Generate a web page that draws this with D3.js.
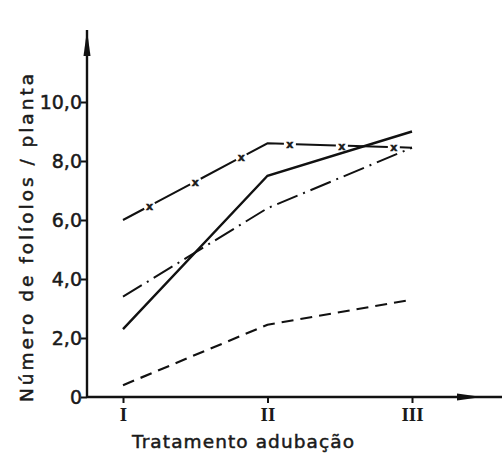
<!DOCTYPE html>
<html>
<head>
<meta charset="utf-8">
<script src="https://cdn.jsdelivr.net/npm/d3@7"></script>
<style>
  body { margin: 0; background: #fff; }
  .lbl { font-family: "DejaVu Sans", sans-serif; fill: #1a1a1a; stroke: #1a1a1a; stroke-width: 0.5px; }
  .roman { font-family: "Liberation Serif", serif; font-weight: bold; fill: #1a1a1a; }
</style>
</head>
<body>
<div id="chart"></div>
<script>
const treatments = ['I', 'II', 'III'];
const yTicks = [0, 2, 4, 6, 8, 10];
const solid = [2.3, 7.5, 9.0];
const crossed = [6.0, 8.6, 8.45];
const dashDot = [3.4, 6.4, 8.45];
const dashed = [0.4, 2.45, 3.3];

const width = 502, height = 465;
const margin = { top: 30, right: 0, bottom: 68, left: 87 };

const svg = d3.select('#chart').append('svg')
  .attr('width', width)
  .attr('height', height);

const x = d3.scalePoint()
  .domain(treatments)
  .range([123, 412]);

const y = d3.scaleLinear()
  .domain([0, 10])
  .range([397, 102]);

// axes
svg.append('line')
  .attr('x1', margin.left).attr('x2', margin.left)
  .attr('y1', margin.top).attr('y2', y(0))
  .attr('stroke', '#111').attr('stroke-width', 2.4);
svg.append('line')
  .attr('x1', margin.left).attr('x2', width)
  .attr('y1', y(0)).attr('y2', y(0))
  .attr('stroke', '#111').attr('stroke-width', 2.4);
// arrow heads (thick segments as in the scan)
svg.append('path')
  .attr('d', `M${margin.left - 3.5},${margin.top + 26} L${margin.left},${margin.top} L${margin.left + 3.5},${margin.top + 26} Z`)
  .attr('fill', '#111');
svg.append('path')
  .attr('d', `M457,${y(0) - 3.5} L482,${y(0)} L457,${y(0) + 3.5} Z`)
  .attr('fill', '#111');

// y ticks
const yAxis = d3.axisLeft(y)
  .tickValues(yTicks)
  .tickSize(6)
  .tickFormat(d => d === 0 ? '0' : d3.format('.1f')(d).replace('.', ','));
const yG = svg.append('g')
  .attr('transform', `translate(${margin.left},0)`)
  .call(yAxis);
yG.select('.domain').remove();
yG.selectAll('line').attr('stroke', '#111').attr('stroke-width', 2);
yG.selectAll('text')
  .attr('class', 'lbl')
  .attr('x', -5)
  .attr('dy', '0.36em')
  .style('font-size', '19px');

// x ticks
const xAxis = d3.axisBottom(x).tickSize(6).tickFormat(d => d);
const xG = svg.append('g')
  .attr('transform', `translate(0,${y(0)})`)
  .call(xAxis);
xG.select('.domain').remove();
xG.selectAll('line').attr('stroke', '#111').attr('stroke-width', 2);
xG.selectAll('text')
  .attr('class', 'roman')
  .attr('y', 11)
  .style('font-size', '19px');

// axis titles
svg.append('text')
  .attr('class', 'lbl')
  .attr('transform', `translate(33,238) rotate(-90)`)
  .attr('text-anchor', 'middle')
  .attr('textLength', 328)
  .style('font-size', '18.5px')
  .text('Número de folíolos / planta');

svg.append('text')
  .attr('class', 'lbl')
  .attr('x', 243).attr('y', 448)
  .attr('text-anchor', 'middle')
  .attr('textLength', 222)
  .style('font-size', '18.5px')
  .text('Tratamento adubação');

// series
const line = d3.line()
  .x((d, i) => x(treatments[i]))
  .y(d => y(d));

svg.append('path').datum(solid)
  .attr('d', line)
  .attr('fill', 'none').attr('stroke', '#111').attr('stroke-width', 2.4);

svg.append('path').datum(dashed)
  .attr('d', line)
  .attr('fill', 'none').attr('stroke', '#111').attr('stroke-width', 2.2)
  .attr('stroke-dasharray', '12,7');

svg.append('path').datum(dashDot)
  .attr('d', line)
  .attr('fill', 'none').attr('stroke', '#111').attr('stroke-width', 2)
  .attr('stroke-dasharray', '22,6,2,6');

const crossPath = svg.append('path').datum(crossed)
  .attr('d', line)
  .attr('fill', 'none').attr('stroke', '#111').attr('stroke-width', 2)
  .attr('stroke-dasharray', '40,12')
  .attr('stroke-dashoffset', 16);

// x marks placed in the gaps along the crossed line
const node = crossPath.node();
const total = node.getTotalLength();
const marks = [];
for (let s = 30; s < total - 10; s += 52) marks.push(node.getPointAtLength(s));
svg.selectAll('.xmark')
  .data(marks)
  .join('text')
  .attr('class', 'lbl xmark')
  .attr('x', d => d.x).attr('y', d => d.y + 4)
  .attr('text-anchor', 'middle')
  .style('font-size', '11px')
  .style('font-weight', 'bold')
  .text('x');
</script>
</body>
</html>
